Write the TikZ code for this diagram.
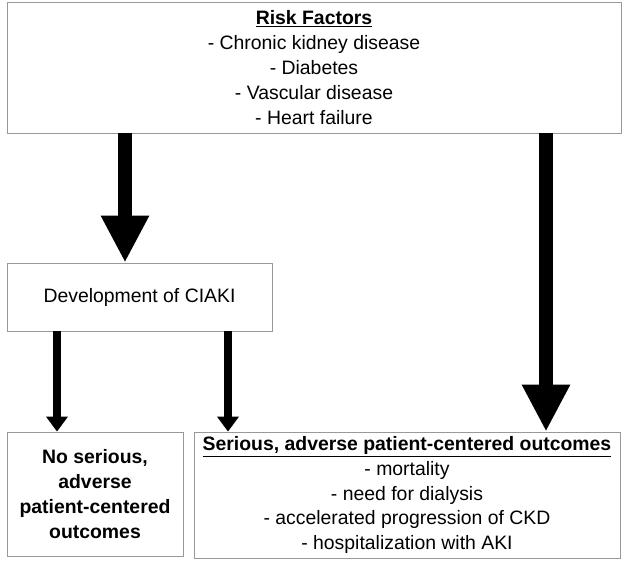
\documentclass[tikz,border=0pt]{standalone}
\usepackage{fontspec}
\setmainfont{Liberation Sans}
\usetikzlibrary{arrows.meta}
\begin{document}
\begin{tikzpicture}[x=1pt,y=-1pt,
  box/.style={draw=black!40, line width=0.8pt, fill=white, inner sep=0pt, align=center,
    font=\fontsize{19.4}{24.8}\selectfont},
  bigarrow/.style={line width=14pt, -{Triangle[width=45pt,length=47pt]}},
  smallarrow/.style={line width=8pt, -{Triangle[width=21pt,length=15pt]}}]
\useasboundingbox (0,0) rectangle (624,566);
\node[box, minimum width=614pt, minimum height=131pt] (risk) at (314,67.5)
  {\textbf{\underline{Risk Factors}}\\- Chronic kidney disease\\- Diabetes\\- Vascular disease\\- Heart failure};
\node[box, minimum width=265pt, minimum height=68pt] (ciaki) at (139.5,297)
  {Development of CIAKI};
\node[box, minimum width=176pt, minimum height=124pt] (none) at (95,494)
  {\bfseries No serious,\\\bfseries adverse\\\bfseries patient-centered\\\bfseries outcomes};
\node[box, minimum width=426pt, minimum height=126pt] (serious) at (407,495)
  {\textbf{\underline{Serious, adverse patient-centered outcomes}}\\- mortality\\- need for dialysis\\- accelerated progression of CKD\\- hospitalization with AKI};
\coordinate (xa) at (125,0);
\coordinate (xb) at (546,0);
\coordinate (xc) at (57,0);
\coordinate (xd) at (228,0);
\draw[bigarrow] (risk.south -| xa) -- (ciaki.north -| xa);
\draw[bigarrow] (risk.south -| xb) -- (serious.north -| xb);
\draw[smallarrow] (ciaki.south -| xc) -- (none.north -| xc);
\draw[smallarrow] (ciaki.south -| xd) -- (serious.north -| xd);
\end{tikzpicture}
\end{document}
